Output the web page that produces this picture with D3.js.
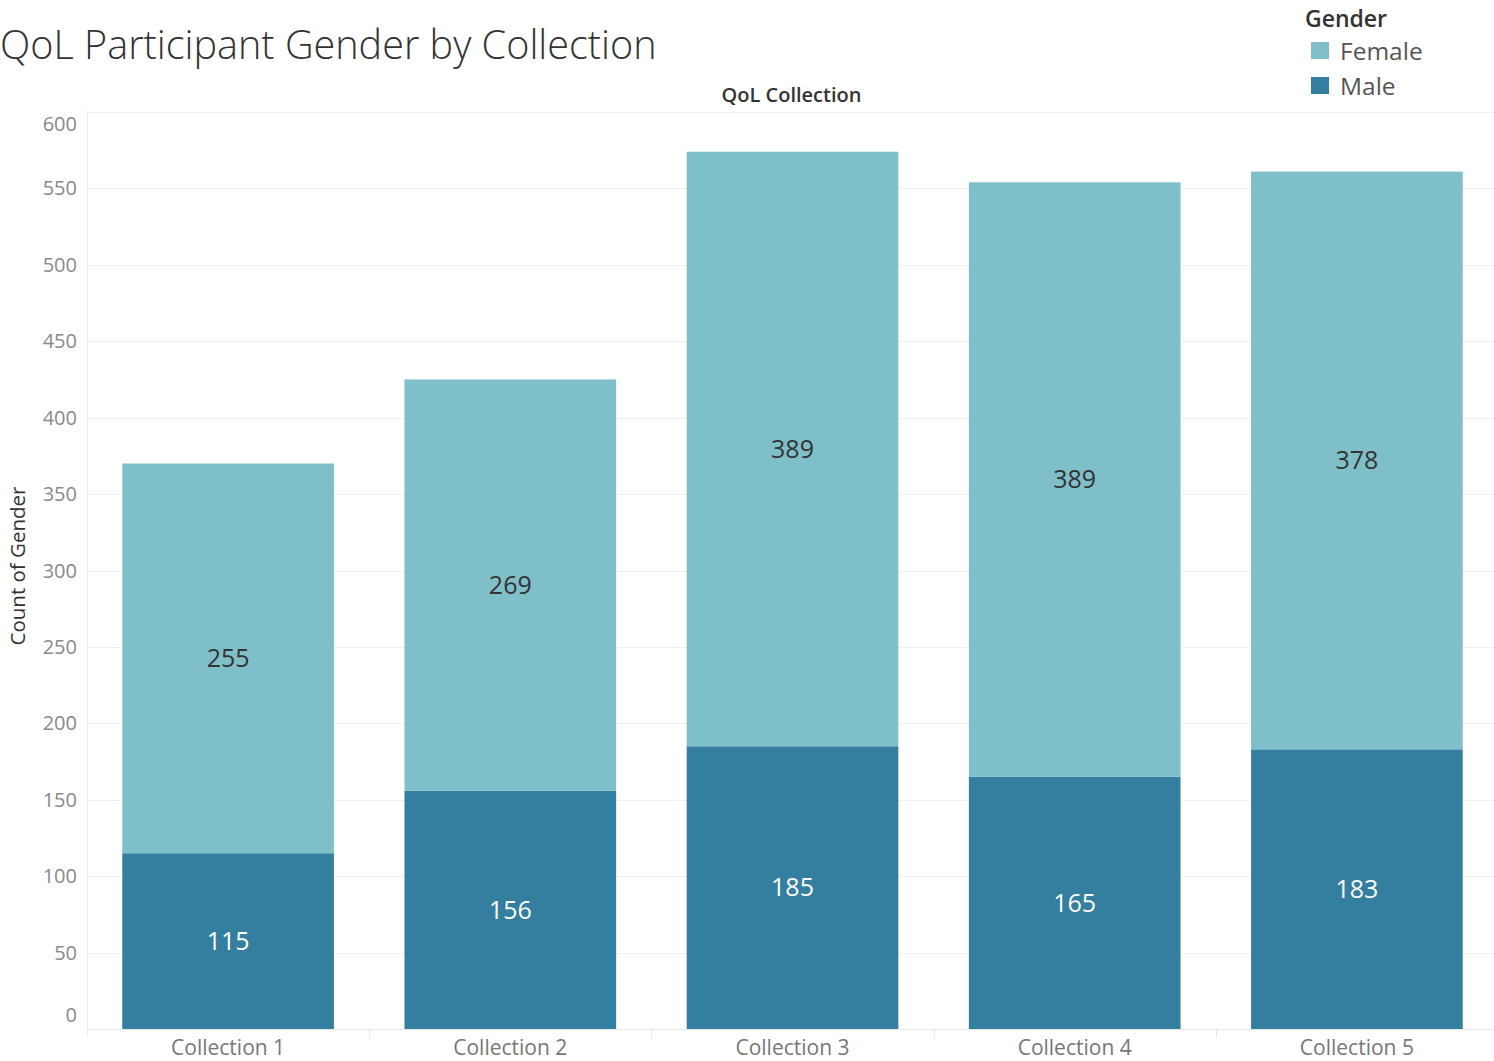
<!DOCTYPE html>
<html>
<head>
<meta charset="utf-8">
<script src="https://cdnjs.cloudflare.com/ajax/libs/d3/7.8.5/d3.min.js"></script>
<style>
  body { margin: 0; background: #fff; overflow: hidden; }
  svg text { font-family: "Open Sans", Lato, sans-serif; }
</style>
</head>
<body>
<svg id="chart"></svg>
<script>
var collections = ["Collection 1", "Collection 2", "Collection 3", "Collection 4", "Collection 5"];
var female = [255, 269, 389, 389, 378];
var male = [115, 156, 185, 165, 183];
var yTicks = [0, 50, 100, 150, 200, 250, 300, 350, 400, 450, 500, 550, 600];
var genders = ["Female", "Male"];

var width = 1494,
    height = 1061,
    plotLeft = 87, plotRight = 1498, plotTop = 112, plotBottom = 1029;

var colors = { Female: "#7fbfc9", Male: "#347ea0" };

var svg = d3.select("#chart").attr("width", width).attr("height", height);

var rows = collections.map(function(c, i) {
  return { name: c, Male: male[i], Female: female[i] };
});

var x = d3.scaleBand().domain(collections).range([plotLeft, plotRight]).paddingInner(0).paddingOuter(0);
var y = d3.scaleLinear().domain([0, 600]).range([plotBottom, plotTop]);

// gridlines
svg.append("g").selectAll("line")
  .data(yTicks)
  .enter().append("line")
  .attr("x1", plotLeft).attr("x2", plotRight)
  .attr("y1", function(d) { return Math.round(y(d)) + 0.5; })
  .attr("y2", function(d) { return Math.round(y(d)) + 0.5; })
  .attr("stroke", "#f0f0f0").attr("stroke-width", 1);

// left axis line
svg.append("line")
  .attr("x1", plotLeft + 0.5).attr("x2", plotLeft + 0.5)
  .attr("y1", plotTop - 2).attr("y2", plotBottom + 8)
  .attr("stroke", "#eeeeee");

// y tick labels
svg.append("g").selectAll("text")
  .data(yTicks)
  .enter().append("text")
  .attr("x", 77)
  .attr("y", function(d) {
    var yy = y(d);
    if (d === 600) yy += 12;
    if (d === 0) yy -= 14;
    return yy;
  })
  .attr("dy", "0.35em")
  .attr("text-anchor", "end")
  .attr("fill", "#8a8a8a")
  .attr("font-size", 20)
  .text(function(d) { return d; });

// stacked bars
var stack = d3.stack().keys(["Male", "Female"]);
var series = stack(rows);
var bw = x.bandwidth() * 0.75;

svg.append("g").selectAll("g")
  .data(series)
  .enter().append("g")
  .attr("fill", function(s) { return colors[s.key]; })
  .selectAll("rect")
  .data(function(s) { return s; })
  .enter().append("rect")
  .attr("x", function(d) { return x(d.data.name) + (x.bandwidth() - bw) / 2; })
  .attr("width", bw)
  .attr("y", function(d) { return y(d[1]); })
  .attr("height", function(d) { return y(d[0]) - y(d[1]); });

// segment labels
series.forEach(function(s) {
  svg.append("g").selectAll("text")
    .data(s)
    .enter().append("text")
    .attr("x", function(d) { return x(d.data.name) + x.bandwidth() / 2; })
    .attr("y", function(d) { return (y(d[0]) + y(d[1])) / 2; })
    .attr("dy", "0.35em")
    .attr("text-anchor", "middle")
    .attr("font-size", 25)
    .attr("fill", s.key === "Male" ? "#ffffff" : "#333333")
    .text(function(d) { return d.data[s.key]; });
});

// bottom baseline and column separators
svg.append("line")
  .attr("x1", plotLeft).attr("x2", plotRight)
  .attr("y1", plotBottom + 0.5).attr("y2", plotBottom + 0.5)
  .attr("stroke", "#e6e6e6");

svg.append("g").selectAll("line")
  .data(collections.slice(1))
  .enter().append("line")
  .attr("x1", function(d) { return Math.round(x(d)) + 0.5; })
  .attr("x2", function(d) { return Math.round(x(d)) + 0.5; })
  .attr("y1", plotBottom).attr("y2", plotBottom + 9)
  .attr("stroke", "#e6e6e6");

// x labels
svg.append("g").selectAll("text")
  .data(collections)
  .enter().append("text")
  .attr("x", function(d) { return x(d) + x.bandwidth() / 2; })
  .attr("y", 1055)
  .attr("text-anchor", "middle")
  .attr("fill", "#777777")
  .attr("font-size", 21)
  .text(function(d) { return d; });

// axis title
svg.append("text")
  .attr("transform", "translate(25,566) rotate(-90)")
  .attr("text-anchor", "middle")
  .attr("fill", "#333333")
  .attr("font-size", 20.5)
  .text("Count of Gender");

// column header
svg.append("text")
  .attr("x", (plotLeft + plotRight) / 2 - 1)
  .attr("y", 102)
  .attr("text-anchor", "middle")
  .attr("fill", "#333333")
  .attr("font-size", 20)
  .attr("font-weight", 600)
  .text("QoL Collection");

// title
svg.append("text")
  .attr("x", 0)
  .attr("y", 59)
  .attr("fill", "#333333")
  .attr("font-size", 39.6)
  .attr("font-weight", 300)
  .text("QoL Participant Gender by Collection");

// legend
var legend = svg.append("g").attr("transform", "translate(1305,0)");
legend.append("text")
  .attr("x", 0).attr("y", 27)
  .attr("fill", "#333333")
  .attr("font-size", 23)
  .attr("font-weight", 600)
  .text("Gender");

var item = legend.selectAll("g.item")
  .data(genders)
  .enter().append("g")
  .attr("class", "item")
  .attr("transform", function(d, i) { return "translate(0," + (42 + i * 35) + ")"; });

item.append("rect")
  .attr("x", 6).attr("y", 0)
  .attr("width", 18).attr("height", 17)
  .attr("fill", function(d) { return colors[d]; });

item.append("text")
  .attr("x", 35).attr("y", 9)
  .attr("dy", "0.35em")
  .attr("fill", "#555555")
  .attr("font-size", 24.5)
  .text(function(d) { return d; });
</script>
</body>
</html>
